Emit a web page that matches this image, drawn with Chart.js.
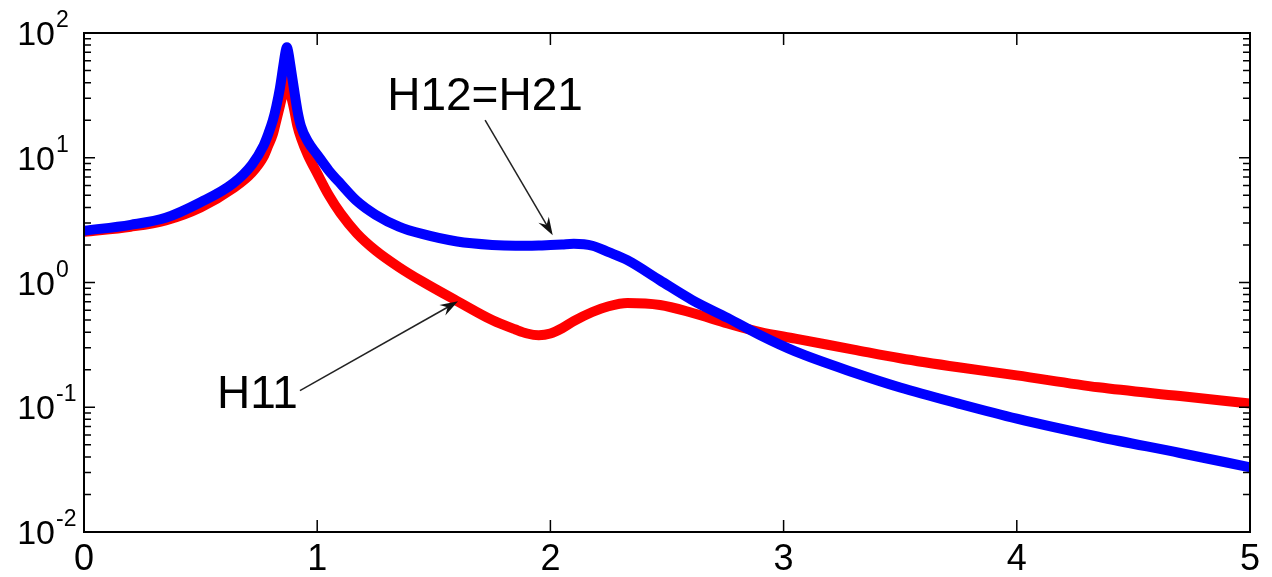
<!DOCTYPE html>
<html>
<head>
<meta charset="utf-8">
<script src="https://cdn.jsdelivr.net/npm/chart.js@4/dist/chart.umd.min.js"></script>
<style>
  html, body { margin: 0; padding: 0; background: #fff; }
  canvas { display: block; }
</style>
</head>
<body>
<canvas id="chart" width="1272" height="577"></canvas>
<script>
// frequency axis
const freq = [0, 0.2, 0.35, 0.5, 0.64, 0.72, 0.77, 0.79, 0.81, 0.825, 0.84, 0.855, 0.865, 0.87,
  0.875, 0.885, 0.9, 0.915, 0.93, 0.96, 1.0, 1.05, 1.1, 1.17, 1.25, 1.35, 1.45, 1.6, 1.75, 1.85,
  1.9, 1.95, 2.0, 2.05, 2.1, 2.18, 2.25, 2.33, 2.47, 2.61, 2.76, 2.9, 3.05, 3.3, 3.5, 3.75, 4.0,
  4.35, 4.7, 5.0];

// H11 magnitude (red)
const h11 = [2.55, 2.8, 3.15, 4.0, 5.7, 7.6, 10.2, 12.5, 15.5, 20, 26, 34, 40, 42,
  40, 33, 25, 18, 14.5, 10.5, 7.5, 5.0, 3.59, 2.48, 1.81, 1.33, 1.02, 0.71, 0.50, 0.42,
  0.39, 0.378, 0.39, 0.43, 0.49, 0.58, 0.645, 0.685, 0.66, 0.57, 0.47, 0.40, 0.355, 0.29, 0.247, 0.209, 0.18,
  0.1445, 0.123, 0.107];

// H12 = H21 magnitude (blue)
const h12 = [2.6, 2.9, 3.3, 4.4, 6.25, 8.8, 12.5, 15.5, 20, 26, 36, 55, 72, 77,
  72, 55, 36, 24, 18, 13.5, 10.6, 7.9, 6.2, 4.5, 3.5, 2.81, 2.45, 2.13, 2.0, 1.97,
  1.97, 1.98, 2.0, 2.02, 2.04, 1.97, 1.75, 1.51, 1.04, 0.72, 0.52, 0.377, 0.28, 0.19, 0.144, 0.107, 0.081,
  0.058, 0.043, 0.033];

const xTicks = [0, 1, 2, 3, 4, 5];
const xTickLabels = ['0', '1', '2', '3', '4', '5'];
const yTicks = [0.01, 0.1, 1, 10, 100];
const yTickExp = ['-2', '-1', '0', '1', '2'];

// annotation text + arrows, in data coordinates
const notes = [
  { text: 'H12=H21', x: 1.30, y: 24, from: [1.72, 20], to: [2.01, 2.39] },
  { text: 'H11', x: 0.57, y: 0.098, from: [0.926, 0.136], to: [1.604, 0.706] }
];

const pts = arr => arr.map((v, i) => ({ x: freq[i], y: v }));

const FONT = '"Liberation Sans", Arial, Helvetica, sans-serif';

const frame = {
  id: 'frame',
  afterDraw(c) {
    const ctx = c.ctx, a = c.chartArea;
    const xs = c.scales.x, ys = c.scales.y;
    ctx.save();
    ctx.strokeStyle = '#000';
    ctx.lineWidth = 2;
    ctx.strokeRect(a.left, a.top, a.right - a.left, a.bottom - a.top);

    ctx.lineWidth = 1.5;
    ctx.beginPath();
    xTicks.forEach(v => {
      const px = xs.getPixelForValue(v);
      ctx.moveTo(px, a.bottom); ctx.lineTo(px, a.bottom - 12);
      ctx.moveTo(px, a.top); ctx.lineTo(px, a.top + 12);
    });
    for (let k = -2; k < 2; k++) {
      for (let m = 1; m <= 9; m++) {
        const py = ys.getPixelForValue(m * Math.pow(10, k));
        const len = m === 1 ? 11 : 7;
        ctx.moveTo(a.left, py); ctx.lineTo(a.left + len, py);
        ctx.moveTo(a.right, py); ctx.lineTo(a.right - len, py);
      }
    }
    ctx.stroke();

    // tick labels
    ctx.fillStyle = '#000';
    ctx.font = '36px ' + FONT;
    ctx.textAlign = 'center';
    ctx.textBaseline = 'alphabetic';
    xTicks.forEach((v, i) => {
      ctx.fillText(xTickLabels[i], xs.getPixelForValue(v), a.bottom + 38);
    });
    yTicks.forEach((v, i) => {
      const py = ys.getPixelForValue(v);
      ctx.font = '34px ' + FONT;
      ctx.textAlign = 'right';
      ctx.fillText('10', 55, py + 12);
      ctx.font = '23px ' + FONT;
      ctx.textAlign = 'left';
      ctx.fillText(yTickExp[i], 56, py - 6);
    });

    // annotations
    notes.forEach(n => {
      ctx.font = '46px ' + FONT;
      ctx.textAlign = 'left';
      ctx.fillText(n.text, xs.getPixelForValue(n.x), ys.getPixelForValue(n.y));
      const x0 = xs.getPixelForValue(n.from[0]), y0 = ys.getPixelForValue(n.from[1]);
      const x1 = xs.getPixelForValue(n.to[0]), y1 = ys.getPixelForValue(n.to[1]);
      const ang = Math.atan2(y1 - y0, x1 - x0);
      ctx.strokeStyle = '#222';
      ctx.lineWidth = 1.5;
      ctx.beginPath();
      ctx.moveTo(x0, y0);
      ctx.lineTo(x1 - 10 * Math.cos(ang), y1 - 10 * Math.sin(ang));
      ctx.stroke();
      const L = 18, W = 6;
      ctx.beginPath();
      ctx.moveTo(x1, y1);
      ctx.lineTo(x1 - L * Math.cos(ang) + W * Math.sin(ang), y1 - L * Math.sin(ang) - W * Math.cos(ang));
      ctx.lineTo(x1 - 12 * Math.cos(ang), y1 - 12 * Math.sin(ang));
      ctx.lineTo(x1 - L * Math.cos(ang) - W * Math.sin(ang), y1 - L * Math.sin(ang) + W * Math.cos(ang));
      ctx.closePath();
      ctx.fillStyle = '#111';
      ctx.fill();
      ctx.fillStyle = '#000';
    });
    ctx.restore();
  }
};

new Chart(document.getElementById('chart'), {
  type: 'line',
  data: {
    datasets: [
      { label: 'H12=H21', data: pts(h12), borderColor: '#0000ff', borderWidth: 10,
        pointRadius: 0, cubicInterpolationMode: 'monotone', fill: false },
      { label: 'H11', data: pts(h11), borderColor: '#ff0000', borderWidth: 10,
        pointRadius: 0, cubicInterpolationMode: 'monotone', fill: false }
    ]
  },
  options: {
    responsive: false,
    animation: false,
    layout: { padding: { left: 84, right: 22, top: 33, bottom: 45 } },
    plugins: { legend: { display: false }, tooltip: { enabled: false } },
    scales: {
      x: { type: 'linear', min: 0, max: 5, display: false },
      y: { type: 'logarithmic', min: 0.01, max: 100, display: false }
    }
  },
  plugins: [frame]
});
</script>
</body>
</html>
